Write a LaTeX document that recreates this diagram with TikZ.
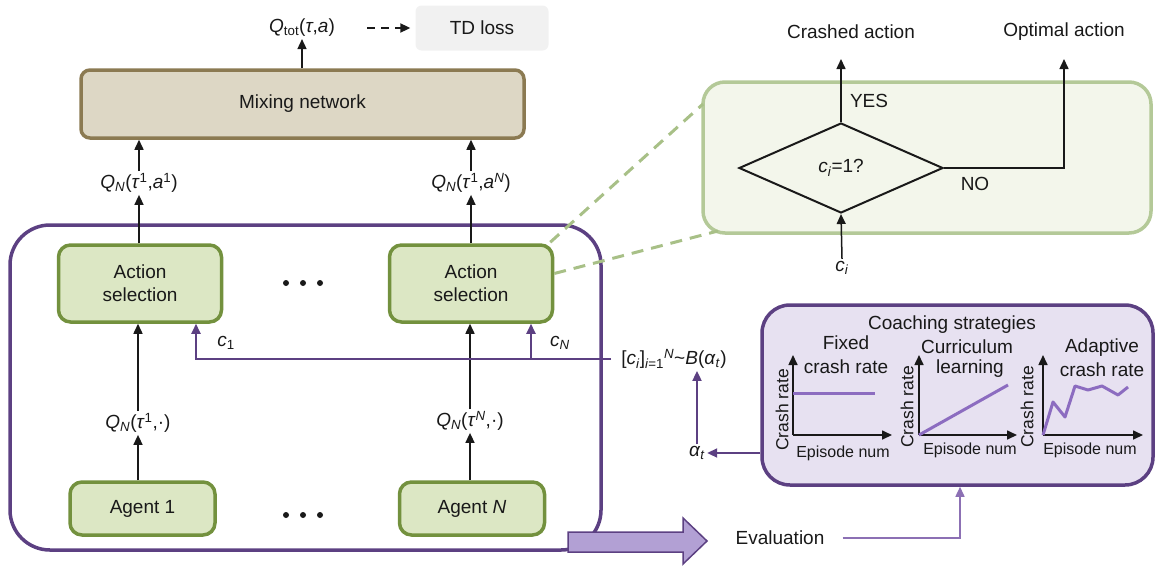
\documentclass[tikz,border=0pt]{standalone}
\usepackage{fontspec}
\setmainfont{Liberation Sans}
\usetikzlibrary{arrows.meta,shapes.geometric}
\definecolor{mixfill}{RGB}{221,215,197}
\definecolor{mixdraw}{RGB}{139,122,82}
\definecolor{gfill}{RGB}{220,231,196}
\definecolor{gdraw}{RGB}{115,145,62}
\definecolor{lgfill}{RGB}{243,246,235}
\definecolor{lgdraw}{RGB}{180,201,152}
\definecolor{dashg}{RGB}{168,192,135}
\definecolor{pdraw}{RGB}{92,64,130}
\definecolor{pfill}{RGB}{231,225,241}
\definecolor{pline}{RGB}{140,108,192}
\definecolor{arrfill}{RGB}{178,160,212}
\definecolor{tdfill}{RGB}{241,241,241}
\definecolor{evline}{RGB}{140,112,180}
\definecolor{ink}{RGB}{25,25,25}
\newcommand{\myQN}{\textit{Q}\textsubscript{\textit{N}}}
\begin{document}
\begin{tikzpicture}[x=1pt,y=-1pt,
  font=\fontsize{19}{23}\selectfont, text=ink,
  arr/.style={-{Triangle[length=10pt,width=9pt]}, line width=1.5pt, ink},
  parr/.style={-{Triangle[length=10pt,width=9pt]}, line width=1.8pt, pdraw},
  greenbox/.style={draw=gdraw, fill=gfill, line width=3.5pt, rounded corners=12pt, align=center, inner sep=0pt},
  lbl/.style={inner sep=2pt},
  small/.style={font=\fontsize{16}{18}\selectfont, inner sep=0pt},
  ylab/.style={font=\fontsize{17.5}{20}\selectfont, rotate=90, inner sep=0pt},
  axis/.style={-{Triangle[length=10pt,width=9pt]}, line width=1.6pt, ink},
  dline/.style={line width=3pt, pline},
  gdash/.style={dashed, dash pattern=on 12pt off 8pt, line width=3pt, dashg}
]
\useasboundingbox (0,0) rectangle (1155,565);

% ---- top part
\node[fill=tdfill, rounded corners=6pt, minimum width=133pt, minimum height=45pt, inner sep=0pt] (td) at (482,28) {TD loss};
\node[lbl] (qtot) at (302,28) {\textit{Q}\textsubscript{tot}(\textit{τ},\textit{a})};
\draw[arr, dashed, dash pattern=on 8pt off 6pt, line width=2pt] ([xshift=30pt]qtot.east) -- ([xshift=-5pt]td.west);
\node[draw=mixdraw, fill=mixfill, line width=3.5pt, rounded corners=9pt, minimum width=443pt, minimum height=68pt] (mix) at (302.5,104) {Mixing network};
\draw[arr] (mix.north -| qtot) -- (qtot.south);

\node[lbl] (qa1) at (139,183) {\myQN(\textit{τ}\textsuperscript{1},\textit{a}\textsuperscript{1})};
\node[lbl] (qaN) at (471,183) {\myQN(\textit{τ}\textsuperscript{1},\textit{a}\textsuperscript{\textit{N}})};
\draw[arr] (qa1.north) -- (qa1.north |- mix.south);
\draw[arr] (qaN.north) -- (qaN.north |- mix.south);

% ---- big purple box
\node[draw=pdraw, line width=3.5pt, rounded corners=40pt, minimum width=591pt, minimum height=325pt, inner sep=0pt] (big) at (305.5,387.5) {};

\node[greenbox, minimum width=163pt, minimum height=77pt] (as1) at (140,283.5) {Action\\selection};
\node[greenbox, minimum width=163pt, minimum height=77pt] (asN) at (471,283.5) {Action\\selection};
\draw[arr] (as1.north -| qa1) -- (qa1.south);
\draw[arr] (asN.north -| qaN) -- (qaN.south);

\foreach \x in {286,303,320} { \fill[ink] (\x,283) circle (3pt); \fill[ink] (\x,515) circle (3pt); }

\node[lbl] (qs1) at (138,423) {\myQN(\textit{τ}\textsuperscript{1},·)};
\node[lbl] (qsN) at (470,421) {\myQN(\textit{τ}\textsuperscript{\textit{N}},·)};

\node[greenbox, minimum width=145pt, minimum height=53pt] (ag1) at (142.5,508.5) {Agent 1};
\node[greenbox, minimum width=145pt, minimum height=53pt] (agN) at (472,508.5) {Agent \textit{N}};

\draw[arr] (ag1.north -| qs1) -- (qs1.south);
\draw[arr] (agN.north -| qsN) -- (qsN.south);
\draw[arr] (qs1.north) -- (qs1.north |- as1.south);
\draw[arr] (qsN.north) -- (qsN.north |- asN.south);

% ---- c distribution
\node[lbl] (cl) at (674,359) {[\textit{c}\textsubscript{\textit{i}}]\textsubscript{\textit{i}=1}\textsuperscript{\textit{N}}\textasciitilde\textit{B}(\textit{α}\textsubscript{\textit{t}})};
\coordinate (j1) at (196,359);
\coordinate (jN) at (531,359);
\draw[parr] ([xshift=-8pt]cl.west) -- (j1) -- (j1 |- as1.south);
\draw[parr] (jN) -- (jN |- asN.south);
\node[lbl] (c1) at (226,343) {\textit{c}\textsubscript{1}};
\node[lbl] (cN) at (560,343) {\textit{c}\textsubscript{\textit{N}}};

% ---- fat arrow
\draw[draw=pdraw, fill=arrfill, line width=1.5pt] (568,532) -- (683,532) -- (683,518) -- (707,541) -- (683,564) -- (683,552) -- (568,552) -- cycle;

% ---- zoomed decision box
\node[draw=lgdraw, fill=lgfill, line width=3.5pt, rounded corners=22pt, minimum width=448pt, minimum height=151pt, inner sep=0pt] (gbox) at (927,157.5) {};
\coordinate (z1) at (703,104);
\coordinate (z2) at (718,231);
\draw[gdash] ([xshift=-4pt,yshift=1pt]asN.north east) -- (z1);
\draw[gdash] ([yshift=10pt]asN.east) -- (z2);

\node[diamond, draw=ink, line width=2pt, aspect=2.27, minimum width=204pt, minimum height=90pt, inner sep=0pt] (dia) at (841,168) {\textit{c}\textsubscript{\textit{i}}=1?};
\node[lbl] (crash) at (851,32) {Crashed action};
\node[lbl] (opt) at (1064,32) {Optimal action};
\coordinate (t1) at (841,59);
\coordinate (t2) at (1064,59);
\draw[arr] (dia.north) -- (t1);
\draw[arr] (dia.east) -- (t2 |- dia.east) -- (t2);
\node[lbl] (yes) at (869,101) {YES};
\node[lbl] (no) at (975,184) {NO};
\node[lbl] (ci) at (842,268) {\textit{c}\textsubscript{\textit{i}}};
\draw[arr] (ci.north) -- (dia.south);

% ---- coaching strategies
\node[draw=pdraw, fill=pfill, line width=3.5pt, rounded corners=28pt, minimum width=391pt, minimum height=180pt, inner sep=0pt] (cbox) at (957.5,395) {};
\node[inner sep=0pt] (cs) at (952,325) {Coaching strategies};

% chart 1
\coordinate (o1) at (793,435);
\draw[axis] (o1) -- (793,355);
\draw[axis] (o1) -- (892,435);
\draw[dline] (793,393) -- (875,393);
\node[inner sep=0pt] (f1) at (846,343) {Fixed};
\node[inner sep=0pt] (f2) at (846,367) {crash rate};
\node[ylab] (y1) at (782,410) {Crash rate};
\node[small] (e1) at (843,453) {Episode num};
% chart 2
\coordinate (o2) at (919,435);
\draw[axis] (o2) -- (919,355);
\draw[axis] (o2) -- (1017,435);
\draw[dline] (o2) -- (1008,385);
\node[inner sep=0pt] (cu1) at (967,347) {Curriculum};
\node[inner sep=0pt] (cu2) at (970,369) {learning};
\node[ylab] (y2) at (907,407) {Crash rate};
\node[small] (e2) at (970,450) {Episode num};
% chart 3
\coordinate (o3) at (1043,435);
\draw[axis] (o3) -- (1043,355);
\draw[axis] (o3) -- (1143,435);
\draw[dline, line join=round] (o3) -- (1053,402) -- (1065,417) -- (1075,386) -- (1088,390) -- (1102,386) -- (1118,395) -- (1128,387);
\node[inner sep=0pt] (ad1) at (1102,348) {Adaptive};
\node[inner sep=0pt] (ad2) at (1102,370) {crash rate};
\node[ylab] (y3) at (1027,407) {Crash rate};
\node[small] (e3) at (1090,450) {Episode num};

% ---- alpha and evaluation
\node[lbl] (at) at (697,453) {\textit{α}\textsubscript{\textit{t}}};
\draw[parr] (at.east -| cbox.west) -- (at.east);
\draw[parr] (at.north) -- (at.north |- cl.south);
\node[lbl] (ev) at (780,538) {Evaluation};
\coordinate (ek) at (960,538);
\draw[-{Triangle[length=10pt,width=9pt]}, line width=1.5pt, evline] ([xshift=16pt]ev.east) -- (ek) -- (ek |- cbox.south);
\end{tikzpicture}
\end{document}
